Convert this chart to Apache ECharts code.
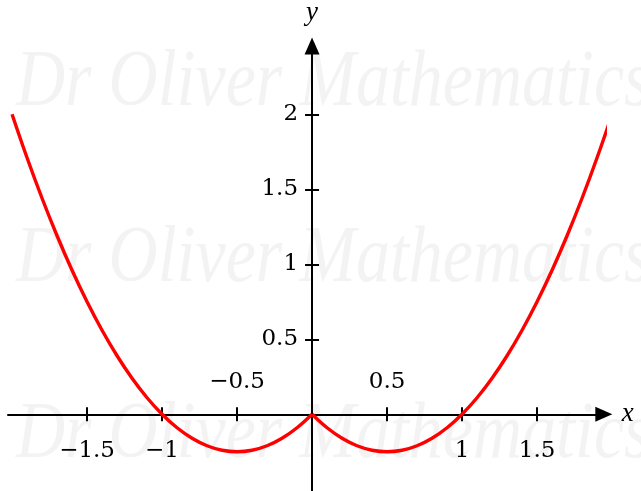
<!DOCTYPE html>
<html>
<head>
<meta charset="utf-8">
<script src="https://cdn.jsdelivr.net/npm/echarts@6/dist/echarts.min.js"></script>
<style>
  html, body { margin: 0; padding: 0; background: #ffffff; }
  #chart { width: 641px; height: 491px; }
</style>
</head>
<body>
<div id="chart"></div>
<script>
// Sampled points of the curve y = x^2 - |x|
var xValues = [-2, -1.9, -1.8, -1.7, -1.6, -1.5, -1.4, -1.3, -1.2, -1.1, -1,
  -0.9, -0.8, -0.7, -0.6, -0.5, -0.4, -0.3, -0.2, -0.1, 0,
  0.1, 0.2, 0.3, 0.4, 0.5, 0.6, 0.7, 0.8, 0.9, 1,
  1.1, 1.2, 1.3, 1.4, 1.5, 1.6, 1.7, 1.8, 1.9, 2];
var yValues = [2, 1.71, 1.44, 1.19, 0.96, 0.75, 0.56, 0.39, 0.24, 0.11, 0,
  -0.09, -0.16, -0.21, -0.24, -0.25, -0.24, -0.21, -0.16, -0.09, 0,
  -0.09, -0.16, -0.21, -0.24, -0.25, -0.24, -0.21, -0.16, -0.09, 0,
  0.11, 0.24, 0.39, 0.56, 0.75, 0.96, 1.19, 1.44, 1.71, 2];

// Tick positions and labels
var xTicks = [-1.5, -1, -0.5, 0.5, 1, 1.5];
var xLabelsBelow = [-1.5, -1, 1, 1.5];
var xLabelsAbove = [-0.5, 0.5];
var yTicks = [0.5, 1, 1.5, 2];
var yLabels = [0.5, 1, 1.5, 2];

var watermarkText = 'Dr Oliver Mathematics';

// The curve has a corner at the origin, so each half is smoothed on its own
var points = xValues.map(function (x, i) { return [x, yValues[i]]; });
var leftHalf = points.filter(function (p) { return p[0] <= 0; });
var rightHalf = points.filter(function (p) { return p[0] >= 0; });

// Plot frame: 150 px per unit on both axes
var X_MIN = -2.027, X_MAX = 1.945, Y_MIN = -0.52, Y_MAX = 2.455;
var UNIT = 150, GRID_LEFT = 8, GRID_TOP = 46;
var gridW = UNIT * (X_MAX - X_MIN);
var gridH = UNIT * (Y_MAX - Y_MIN);
// Shift the axes so that they cross at the origin
var yAxisShift = -UNIT * (0 - X_MIN);
var xAxisShift = -UNIT * (0 - Y_MIN);

var labelFont = {
  fontFamily: 'DejaVu Serif',
  fontSize: 23,
  color: '#000'
};
function fmt(v) { return String(v).replace('-', '\u2212'); }

var axisLineStyle = { color: '#000', width: 2 };
var tickStyle = { color: '#000', width: 2 };
var nameStyle = { fontFamily: 'Liberation Serif', fontStyle: 'italic', fontSize: 27, color: '#000' };

var chart = echarts.init(document.getElementById('chart'), null, { renderer: 'canvas' });

// Faint repeated signature behind the plot
var marks = [44, 220, 396].map(function (top) {
  return {
    type: 'text',
    x: 16,
    y: top,
    scaleX: 0.85,
    z: -10,
    silent: true,
    style: {
      text: watermarkText,
      fill: '#f3f3f3',
      font: 'italic 80px "Liberation Serif"'
    }
  };
});

function xAxisBase() {
  return {
    type: 'value', min: X_MIN, max: X_MAX, position: 'bottom',
    offset: xAxisShift, splitLine: { show: false }
  };
}
function yAxisBase() {
  return {
    type: 'value', min: Y_MIN, max: Y_MAX, position: 'left',
    offset: yAxisShift, splitLine: { show: false }
  };
}

function curveSeries(data) {
  return {
    type: 'line',
    xAxisIndex: 0,
    yAxisIndex: 0,
    data: data,
    showSymbol: false,
    clip: false,
    smooth: 0.4,
    lineStyle: { color: '#ff0000', width: 3.4 },
    z: 1
  };
}

chart.setOption({
  animation: false,
  backgroundColor: '#ffffff',
  graphic: marks,
  grid: {
    left: GRID_LEFT, top: GRID_TOP, width: gridW, height: gridH,
    containLabel: false, outerBoundsMode: 'none'
  },
  xAxis: [Object.assign(xAxisBase(), {
    axisLine: { show: true, onZero: false, lineStyle: axisLineStyle,
      symbol: ['none', 'triangle'], symbolSize: [15, 17] },
    axisTick: { show: true, inside: false, length: 7, lineStyle: tickStyle,
      customValues: xTicks },
    axisLabel: Object.assign({ show: true, margin: 25, customValues: xLabelsBelow,
      formatter: fmt }, labelFont),
    name: 'x', nameLocation: 'end', nameGap: 18, nameTextStyle: nameStyle
  }), Object.assign(xAxisBase(), {
    axisLine: { show: false, onZero: false },
    axisTick: { show: true, inside: true, length: 7, lineStyle: tickStyle,
      customValues: xTicks },
    axisLabel: Object.assign({ show: true, inside: true, margin: 21, customValues: xLabelsAbove,
      formatter: fmt }, labelFont)
  })],
  yAxis: [Object.assign(yAxisBase(), {
    axisLine: { show: true, onZero: false, lineStyle: axisLineStyle,
      symbol: ['none', 'triangle'], symbolSize: [15, 17] },
    axisTick: { show: true, inside: false, length: 7, lineStyle: tickStyle,
      customValues: yTicks },
    axisLabel: Object.assign({ show: true, margin: 14, customValues: yLabels,
      formatter: fmt }, labelFont),
    name: 'y', nameLocation: 'end', nameGap: 20, nameTextStyle: nameStyle
  }), Object.assign(yAxisBase(), {
    axisLine: { show: false, onZero: false },
    axisTick: { show: true, inside: true, length: 7, lineStyle: tickStyle,
      customValues: yTicks },
    axisLabel: { show: false }
  })],
  series: [curveSeries(leftHalf), curveSeries(rightHalf)]
});
</script>
</body>
</html>
